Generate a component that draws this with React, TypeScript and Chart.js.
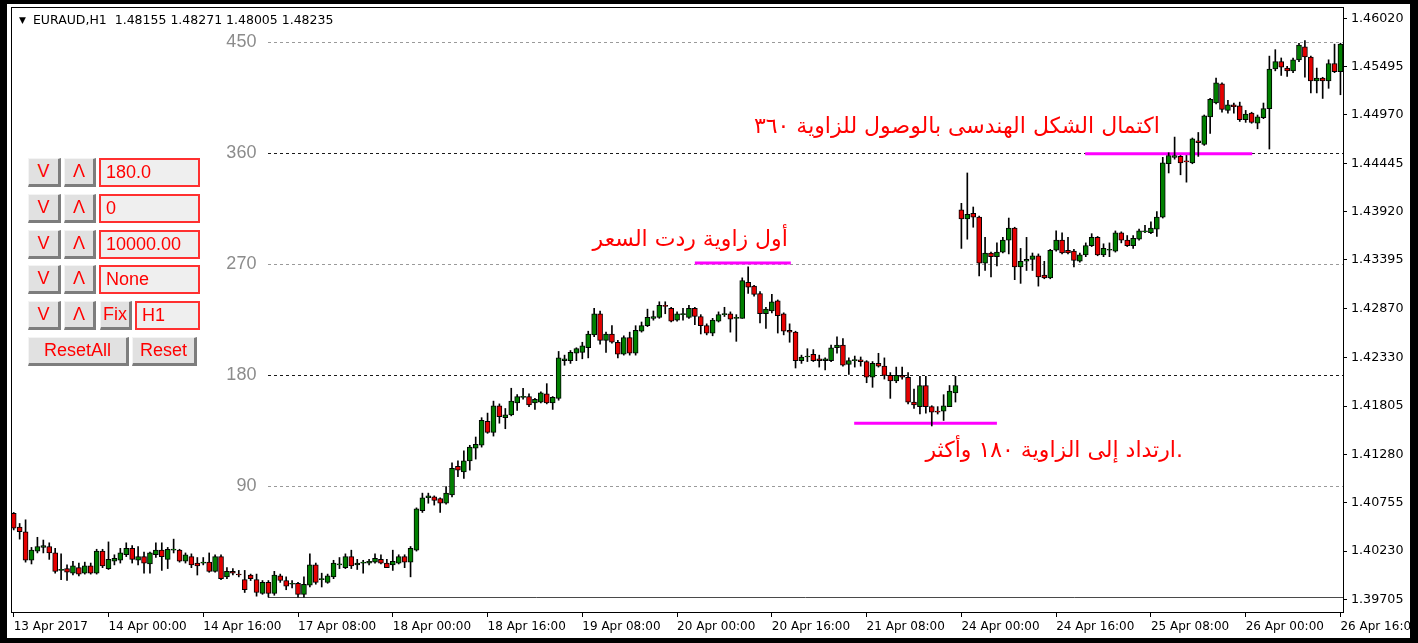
import React, { useEffect, useRef } from "react";
import { Chart, registerables } from "chart.js";

Chart.register(...registerables);

// ---------- DATA (EURAUD H1, one entry per bar, bar 0 = 13 Apr 2017 08:00) ----------
const opens = [
  // 0-49
  1.4064, 1.4049, 1.4044, 1.4013, 1.4023, 1.4027, 1.4028, 1.4021, 1.4002, 1.4004,
  1.3999, 1.4005, 1.3999, 1.4007, 1.3999, 1.4023, 1.4004, 1.4012, 1.4013, 1.4019,
  1.4026, 1.4013, 1.4017, 1.4009, 1.4019, 1.4024, 1.4014, 1.4024, 1.4024, 1.4012,
  1.4017, 1.4010, 1.4010, 1.4011, 1.4001, 1.4017, 1.3995, 1.4001, 1.3998, 1.3992,
  1.3997, 1.3992, 1.3977, 1.3989, 1.3977, 1.3996, 1.3991, 1.3987, 1.3988, 1.3976,
  // 50-92
  1.3986, 1.4008, 1.3992, 1.3989, 1.3995, 1.4008, 1.4005, 1.4017, 1.4008, 1.4010,
  1.4010, 1.4011, 1.4014, 1.4010, 1.4008, 1.4010, 1.4017, 1.4011, 1.4024, 1.4067,
  1.4081, 1.4082, 1.4080, 1.4075, 1.4084, 1.4115, 1.4109, 1.4121, 1.4135, 1.4138,
  1.4164, 1.4152, 1.4181, 1.4168, 1.4171, 1.4184, 1.4190, 1.4191, 1.4184, 1.4185,
  1.4194, 1.4184, 1.4189,
  // 93-126
  1.4230, 1.4230, 1.4238, 1.4239, 1.4244, 1.4258, 1.4281, 1.4252, 1.4259, 1.4250,
  1.4237, 1.4255, 1.4238, 1.4262, 1.4268, 1.4276, 1.4277, 1.4290, 1.4287, 1.4274,
  1.4280, 1.4277, 1.4287, 1.4278, 1.4268, 1.4260, 1.4273, 1.4280, 1.4281, 1.4276,
  1.4276, 1.4315, 1.4311, 1.4303,
  // 127-159
  1.4281, 1.4284, 1.4295, 1.4281, 1.4263, 1.4261, 1.4230, 1.4234, 1.4237, 1.4232,
  1.4230, 1.4230, 1.4244, 1.4247, 1.4226, 1.4230, 1.4231, 1.4229, 1.4212, 1.4227,
  1.4224, 1.4214, 1.4208, 1.4214, 1.4212, 1.4185, 1.4180, 1.4203, 1.4180, 1.4175,
  1.4175, 1.4180, 1.4195,
  // 160-194
  1.4394, 1.4384, 1.4390, 1.4386, 1.4336, 1.4347, 1.4343, 1.4348, 1.4361, 1.4374,
  1.4332, 1.4338, 1.4340, 1.4344, 1.4323, 1.4320, 1.4350, 1.4361, 1.4350, 1.4349,
  1.4338, 1.4345, 1.4355, 1.4364, 1.4345, 1.4350, 1.4349, 1.4369, 1.4361, 1.4355,
  1.4362, 1.4370, 1.4369, 1.4373, 1.4386,
  // 195-224
  1.4444, 1.4451, 1.4452, 1.4447, 1.4445, 1.4469, 1.4465, 1.4495, 1.4510, 1.4531,
  1.4502, 1.4508, 1.4507, 1.4492, 1.4499, 1.4488, 1.4494, 1.4504, 1.4547, 1.4555,
  1.4548, 1.4545, 1.4557, 1.4571, 1.4560, 1.4534, 1.4537, 1.4534, 1.4553, 1.4544,
];

const highs = [
  1.4065, 1.4053, 1.4057, 1.4027, 1.4038, 1.4035, 1.4032, 1.4026, 1.4020, 1.4008,
  1.4012, 1.4010, 1.4011, 1.4010, 1.4025, 1.4025, 1.4033, 1.4019, 1.4026, 1.4032,
  1.4029, 1.4028, 1.4022, 1.4022, 1.4032, 1.4032, 1.4027, 1.4036, 1.4025, 1.4021,
  1.4020, 1.4016, 1.4016, 1.4021, 1.4019, 1.4019, 1.4005, 1.4004, 1.4002, 1.4002,
  1.3998, 1.3998, 1.3991, 1.3991, 1.4001, 1.3998, 1.3995, 1.3991, 1.3989, 1.3995,
  1.4020, 1.4010, 1.3999, 1.3998, 1.4013, 1.4016, 1.4020, 1.4024, 1.4014, 1.4013,
  1.4014, 1.4020, 1.4019, 1.4014, 1.4024, 1.4019, 1.4019, 1.4028, 1.4070, 1.4086,
  1.4086, 1.4083, 1.4081, 1.4093, 1.4119, 1.4121, 1.4132, 1.4138, 1.4147, 1.4168,
  1.4173, 1.4186, 1.4183, 1.4178, 1.4200, 1.4193, 1.4200, 1.4194, 1.4189, 1.4196,
  1.4205, 1.4191, 1.4240,
  1.4236, 1.4241, 1.4244, 1.4250, 1.4262, 1.4287, 1.4284, 1.4261, 1.4268, 1.4252,
  1.4257, 1.4261, 1.4268, 1.4272, 1.4286, 1.4284, 1.4294, 1.4294, 1.4288, 1.4283,
  1.4287, 1.4290, 1.4288, 1.4280, 1.4270, 1.4276, 1.4283, 1.4288, 1.4283, 1.4280,
  1.4320, 1.4332, 1.4312, 1.4305,
  1.4288, 1.4302, 1.4296, 1.4282, 1.4270, 1.4262, 1.4236, 1.4243, 1.4242, 1.4236,
  1.4233, 1.4247, 1.4256, 1.4254, 1.4233, 1.4235, 1.4234, 1.4230, 1.4229, 1.4238,
  1.4233, 1.4217, 1.4223, 1.4223, 1.4217, 1.4199, 1.4213, 1.4213, 1.4181, 1.4180,
  1.4193, 1.4203, 1.4213,
  1.4401, 1.4434, 1.4397, 1.4387, 1.4364, 1.4348, 1.4358, 1.4364, 1.4385, 1.4375,
  1.4352, 1.4364, 1.4347, 1.4346, 1.4338, 1.4351, 1.4371, 1.4369, 1.4364, 1.4351,
  1.4347, 1.4358, 1.4368, 1.4365, 1.4357, 1.4358, 1.4371, 1.4370, 1.4366, 1.4366,
  1.4373, 1.4377, 1.4381, 1.4392, 1.4451,
  1.4456, 1.4473, 1.4453, 1.4453, 1.4472, 1.4478, 1.4497, 1.4515, 1.4537, 1.4532,
  1.4513, 1.4510, 1.4511, 1.4502, 1.4500, 1.4497, 1.4510, 1.4561, 1.4568, 1.4559,
  1.4550, 1.4559, 1.4575, 1.4578, 1.4561, 1.4548, 1.4538, 1.4557, 1.4574, 1.4575,
];

const lows = [
  1.4046, 1.4036, 1.4011, 1.4009, 1.4021, 1.4021, 1.4014, 1.3999, 1.3992, 1.3991,
  1.3997, 1.3996, 1.3998, 1.3998, 1.3998, 1.4005, 1.4003, 1.4008, 1.4010, 1.4017,
  1.4010, 1.4008, 1.3999, 1.3999, 1.4016, 1.4002, 1.4004, 1.4021, 1.4011, 1.4010,
  1.4005, 1.3997, 1.4008, 1.4000, 1.4000, 1.3992, 1.3993, 1.3997, 1.3995, 1.3978,
  1.3991, 1.3974, 1.3976, 1.3973, 1.3975, 1.3989, 1.3981, 1.3983, 1.3973, 1.3973,
  1.3984, 1.3987, 1.3984, 1.3988, 1.3993, 1.4004, 1.4004, 1.4004, 1.4003, 1.3999,
  1.4008, 1.4010, 1.4009, 1.4005, 1.4002, 1.4009, 1.4005, 1.3995, 1.4023, 1.4065,
  1.4075, 1.4073, 1.4065, 1.4074, 1.4082, 1.4104, 1.4102, 1.4111, 1.4123, 1.4136,
  1.4151, 1.4148, 1.4162, 1.4156, 1.4170, 1.4176, 1.4188, 1.4180, 1.4177, 1.4184,
  1.4183, 1.4177, 1.4187,
  1.4225, 1.4227, 1.4230, 1.4232, 1.4233, 1.4256, 1.4248, 1.4239, 1.4249, 1.4233,
  1.4236, 1.4236, 1.4236, 1.4261, 1.4267, 1.4274, 1.4276, 1.4281, 1.4272, 1.4273,
  1.4274, 1.4276, 1.4269, 1.4259, 1.4258, 1.4257, 1.4272, 1.4278, 1.4261, 1.4251,
  1.4276, 1.4303, 1.4300, 1.4271,
  1.4265, 1.4282, 1.4260, 1.4258, 1.4250, 1.4222, 1.4227, 1.4229, 1.4229, 1.4223,
  1.4220, 1.4229, 1.4238, 1.4224, 1.4215, 1.4223, 1.4224, 1.4206, 1.4201, 1.4223,
  1.4210, 1.4189, 1.4206, 1.4210, 1.4183, 1.4178, 1.4172, 1.4173, 1.4159, 1.4172,
  1.4165, 1.4180, 1.4185,
  1.4352, 1.4362, 1.4375, 1.4322, 1.4328, 1.4321, 1.4333, 1.4347, 1.4346, 1.4318,
  1.4314, 1.4328, 1.4328, 1.4311, 1.4319, 1.4319, 1.4349, 1.4346, 1.4346, 1.4332,
  1.4337, 1.4343, 1.4354, 1.4344, 1.4343, 1.4343, 1.4348, 1.4358, 1.4354, 1.4352,
  1.4361, 1.4369, 1.4368, 1.4365, 1.4385,
  1.4434, 1.4449, 1.4432, 1.4424, 1.4444, 1.4452, 1.4464, 1.4477, 1.4509, 1.4500,
  1.4499, 1.4499, 1.4490, 1.4489, 1.4488, 1.4482, 1.4493, 1.4460, 1.4545, 1.4540,
  1.4539, 1.4543, 1.4555, 1.4538, 1.4521, 1.4521, 1.4515, 1.4526, 1.4543, 1.4519,
];

const closes = [
  1.4048, 1.4044, 1.4013, 1.4024, 1.4028, 1.4029, 1.4021, 1.4001, 1.4003, 1.4000,
  1.4007, 1.3998, 1.4007, 1.3999, 1.4023, 1.4007, 1.4014, 1.4015, 1.4021, 1.4026,
  1.4014, 1.4017, 1.4010, 1.4021, 1.4024, 1.4017, 1.4025, 1.4024, 1.4012, 1.4019,
  1.4008, 1.4007, 1.4011, 1.4001, 1.4017, 1.3993, 1.4001, 1.3999, 1.3997, 1.3981,
  1.3993, 1.3978, 1.3989, 1.3977, 1.3997, 1.3991, 1.3985, 1.3987, 1.3976, 1.3987,
  1.4008, 1.3989, 1.3993, 1.3996, 1.4010, 1.4009, 1.4017, 1.4007, 1.4010, 1.4010,
  1.4012, 1.4015, 1.4010, 1.4005, 1.4012, 1.4017, 1.4011, 1.4026, 1.4069, 1.4081,
  1.4083, 1.4078, 1.4075, 1.4086, 1.4113, 1.4111, 1.4121, 1.4136, 1.4139, 1.4165,
  1.4152, 1.4181, 1.4169, 1.4171, 1.4186, 1.4191, 1.4190, 1.4182, 1.4188, 1.4195,
  1.4184, 1.4190, 1.4233,
  1.4232, 1.4239, 1.4243, 1.4246, 1.4259, 1.4281, 1.4252, 1.4259, 1.4250, 1.4237,
  1.4255, 1.4238, 1.4263, 1.4268, 1.4277, 1.4278, 1.4290, 1.4289, 1.4273, 1.4281,
  1.4281, 1.4287, 1.4278, 1.4268, 1.4260, 1.4274, 1.4280, 1.4280, 1.4275, 1.4277,
  1.4317, 1.4310, 1.4302, 1.4281,
  1.4286, 1.4294, 1.4279, 1.4262, 1.4261, 1.4230, 1.4234, 1.4235, 1.4230, 1.4230,
  1.4232, 1.4244, 1.4247, 1.4225, 1.4230, 1.4231, 1.4229, 1.4212, 1.4227, 1.4224,
  1.4214, 1.4208, 1.4214, 1.4212, 1.4185, 1.4182, 1.4203, 1.4180, 1.4174, 1.4174,
  1.4181, 1.4197, 1.4203,
  1.4384, 1.4389, 1.4386, 1.4336, 1.4347, 1.4343, 1.4348, 1.4361, 1.4374, 1.4332,
  1.4338, 1.4340, 1.4344, 1.4321, 1.4320, 1.4350, 1.4361, 1.4347, 1.4347, 1.4339,
  1.4345, 1.4355, 1.4364, 1.4345, 1.4352, 1.4351, 1.4369, 1.4361, 1.4355, 1.4363,
  1.4371, 1.4371, 1.4374, 1.4386, 1.4445,
  1.4453, 1.4453, 1.4445, 1.4446, 1.4471, 1.4467, 1.4496, 1.4514, 1.4532, 1.4503,
  1.4508, 1.4506, 1.4492, 1.4498, 1.4489, 1.4495, 1.4504, 1.4547, 1.4555, 1.4549,
  1.4545, 1.4557, 1.4573, 1.4560, 1.4534, 1.4537, 1.4534, 1.4553, 1.4544, 1.4574,
];

const timeLabels = [
  "13 Apr 2017", "14 Apr 00:00", "14 Apr 16:00", "17 Apr 08:00", "18 Apr 00:00",
  "18 Apr 16:00", "19 Apr 08:00", "20 Apr 00:00", "20 Apr 16:00", "21 Apr 08:00",
  "24 Apr 00:00", "24 Apr 16:00", "25 Apr 08:00", "26 Apr 00:00", "26 Apr 16:00",
];
const barsPerTimeLabel = 16;

const priceTicks = [
  1.4602, 1.45495, 1.4497, 1.44445, 1.4392, 1.43395, 1.4287,
  1.4233, 1.41805, 1.4128, 1.40755, 1.4023, 1.39705,
];

const symbolHeader = "EURAUD,H1  1.48155 1.48271 1.48005 1.48235";

// angle levels (degrees), measured from the swing low at bar 43
const angleLevels = [0, 90, 180, 270, 360, 450];
const angleBasePrice = 1.3973;
const pricePer90Degrees = 0.01207;
const angleAnchorBar = 43;

const highlightSegments = [
  { fromBar: 115, toBar: 131.2, price: 1.4336 },
  { fromBar: 141.9, toBar: 166.0, price: 1.4162 },
  { fromBar: 180.9, toBar: 209.1, price: 1.4455 },
];

const notes = [
  { text: "أول زاوية ردت السعر", bar: 130.7, price: 1.4361 },
  { text: "اكتمال الشكل الهندسى بالوصول للزاوية ٣٦٠", bar: 193.5, price: 1.4484 },
  { text: ".ارتداد إلى الزاوية ١٨٠ وأكثر", bar: 197.4, price: 1.4131 },
];

const panelRows = [
  { buttons: ["V", "Λ"], field: "180.0" },
  { buttons: ["V", "Λ"], field: "0" },
  { buttons: ["V", "Λ"], field: "10000.00" },
  { buttons: ["V", "Λ"], field: "None" },
  { buttons: ["V", "Λ", "Fix"], field: "H1" },
];
const panelResetButtons = ["ResetAll", "Reset"];

// ---------- STYLE ----------
const W = 1418;
const H = 643;
const AXIS_FONT = '"DejaVu Sans", sans-serif';
const BULL = "#008000";
const BEAR = "#e60000";

export default function App() {
  const ref = useRef<HTMLCanvasElement>(null);

  useEffect(() => {
    document.body.style.margin = "0";
    const canvas = ref.current!;
    const idx = opens.map((_, i) => i);

    const overlay = {
      id: "mtOverlay",
      beforeDatasetsDraw(chart: any) {
        const { ctx, chartArea: a, scales } = chart;
        const x = scales.x;
        const y = scales.y;
        ctx.save();
        ctx.beginPath();
        ctx.rect(a.left, a.top, a.right - a.left, a.bottom - a.top);
        ctx.clip();
        const x0 = x.getPixelForValue(angleAnchorBar);
        angleLevels.forEach((deg) => {
          const price = angleBasePrice + (pricePer90Degrees * deg) / 90;
          const py = Math.round(y.getPixelForValue(price)) + 0.5;
          ctx.beginPath();
          ctx.lineWidth = 1;
          if (deg === 0) {
            ctx.setLineDash([]);
            ctx.strokeStyle = "#4a4a4a";
          } else {
            ctx.setLineDash([3, 3]);
            ctx.strokeStyle = deg % 180 === 0 ? "#1a1a1a" : "#9a9a9a";
          }
          ctx.moveTo(Math.round(x0), py);
          ctx.lineTo(a.right, py);
          ctx.stroke();
          if (deg > 0) {
            ctx.setLineDash([]);
            ctx.fillStyle = "#8c8c8c";
            ctx.font = '18px "Liberation Sans", Arial, sans-serif';
            ctx.textAlign = "right";
            ctx.textBaseline = "middle";
            ctx.fillText(String(deg), x0 - 12, py);
          }
        });
        ctx.setLineDash([]);
        highlightSegments.forEach((s) => {
          const py = y.getPixelForValue(s.price);
          ctx.beginPath();
          ctx.strokeStyle = "#ff00ff";
          ctx.lineWidth = 3;
          ctx.moveTo(x.getPixelForValue(s.fromBar), py);
          ctx.lineTo(x.getPixelForValue(s.toBar), py);
          ctx.stroke();
        });
        ctx.restore();
      },
      afterDatasetsDraw(chart: any) {
        const { ctx, scales } = chart;
        ctx.save();
        ctx.fillStyle = "#ff0000";
        ctx.font = '22px "DejaVu Sans", sans-serif';
        ctx.textAlign = "right";
        ctx.textBaseline = "middle";
        (ctx as any).direction = "rtl";
        notes.forEach((n) => {
          ctx.fillText(n.text, scales.x.getPixelForValue(n.bar), scales.y.getPixelForValue(n.price));
        });
        ctx.restore();
      },
      afterDraw(chart: any) {
        const { ctx, chartArea: a } = chart;
        ctx.save();
        ctx.strokeStyle = "#000";
        ctx.lineWidth = 1;
        ctx.strokeRect(Math.round(a.left) - 0.5, Math.round(a.top) - 0.5, Math.round(a.right - a.left) + 1, Math.round(a.bottom - a.top) + 1);
        ctx.restore();
      },
    };

    const chart = new Chart(canvas, {
      type: "bar",
      data: {
        datasets: [
          {
            label: "wick",
            data: idx.map((i) => ({ x: i, y: [lows[i], highs[i]] })) as any,
            backgroundColor: "#000",
            borderWidth: 0,
            barThickness: 1,
            grouped: false,
            order: 2,
          } as any,
          {
            label: "body",
            data: idx.map((i) => ({ x: i, y: [opens[i], closes[i]] })) as any,
            backgroundColor: idx.map((i) => (closes[i] >= opens[i] ? BULL : BEAR)),
            borderColor: "#000",
            borderWidth: 1,
            borderSkipped: false,
            barThickness: 5,
            minBarLength: 1,
            grouped: false,
            order: 1,
          } as any,
        ],
      },
      options: {
        animation: false,
        responsive: false,
        maintainAspectRatio: false,
        events: [],
        layout: { padding: { left: 12, top: 8, right: 0, bottom: 0 } },
        plugins: { legend: { display: false }, tooltip: { enabled: false } },
        scales: {
          x: {
            type: "linear",
            offset: false,
            min: -0.29,
            max: 224.43,
            afterBuildTicks: (s: any) => {
              s.ticks = timeLabels.map((_, k) => ({ value: k * barsPerTimeLabel }));
            },
            afterFit: (s: any) => {
              s.height = H - 612;
              s.paddingLeft = 0;
              s.paddingRight = 0;
            },
            grid: { offset: false, drawOnChartArea: false, drawTicks: true, tickLength: 5, color: "#000" },
            border: { display: false },
            ticks: {
              autoSkip: false,
              maxRotation: 0,
              minRotation: 0,
              align: "start",
              padding: 3,
              color: "#000",
              font: { family: AXIS_FONT, size: 12 },
              callback: (_v: any, i: number) => timeLabels[i] ?? "",
            },
          },
          y: {
            position: "right",
            min: 1.39568,
            max: 1.46133,
            afterBuildTicks: (s: any) => {
              s.ticks = priceTicks.map((v) => ({ value: v }));
            },
            afterFit: (s: any) => {
              s.width = W - 1343;
              s.paddingTop = 0;
              s.paddingBottom = 0;
            },
            grid: { drawOnChartArea: false, drawTicks: true, tickLength: 4, color: "#000" },
            border: { display: false },
            ticks: {
              padding: 4,
              color: "#000",
              font: { family: AXIS_FONT, size: 12.7 },
              callback: (v: any) => Number(v).toFixed(5),
            },
          },
        },
      } as any,
      plugins: [overlay],
    });
    return () => chart.destroy();
  }, []);

  const btnStyle = (left: number, top: number, width: number): React.CSSProperties => ({
    position: "absolute",
    left,
    top,
    width,
    height: 29,
    boxSizing: "border-box",
    background: "#e1e1e1",
    borderStyle: "solid",
    borderWidth: "1px 3px 3px 1px",
    borderColor: "#f4f4f4 #7d7d7d #7d7d7d #f4f4f4",
    color: "#ff0000",
    font: '18px "Liberation Sans", Arial, sans-serif',
    display: "flex",
    alignItems: "center",
    justifyContent: "center",
  });
  const fieldStyle = (left: number, top: number, width: number): React.CSSProperties => ({
    position: "absolute",
    left,
    top,
    width,
    height: 29,
    boxSizing: "border-box",
    background: "#efefef",
    border: "2px solid #ff3030",
    color: "#ff0000",
    font: '18px "Liberation Sans", Arial, sans-serif',
    display: "flex",
    alignItems: "center",
    paddingLeft: 5,
  });

  return (
    <div style={{ position: "relative", width: W, height: H, background: "#fff", overflow: "hidden" }}>
      <canvas ref={ref} width={W} height={H} style={{ position: "absolute", left: 0, top: 0, width: W, height: H }} />
      <div
        style={{
          position: "absolute",
          left: 19,
          top: 12,
          font: '12.5px "DejaVu Sans", sans-serif',
          color: "#000",
          whiteSpace: "pre",
          display: "flex",
          alignItems: "center",
        }}
      >
        <span style={{ fontSize: 9, marginRight: 7 }}>▼</span>
        <span>{symbolHeader}</span>
      </div>
      {panelRows.map((row, r) => {
        const top = 158 + r * 35.8;
        const hasFix = row.buttons.length === 3;
        return (
          <React.Fragment key={r}>
            <div style={btnStyle(28, top, 33)}>{row.buttons[0]}</div>
            <div style={btnStyle(64, top, 32)}>{row.buttons[1]}</div>
            {hasFix && <div style={btnStyle(100, top, 32)}>{row.buttons[2]}</div>}
            <div style={fieldStyle(hasFix ? 135 : 99, top, hasFix ? 65 : 101)}>{row.field}</div>
          </React.Fragment>
        );
      })}
      <div style={btnStyle(28, 337, 101)}>{panelResetButtons[0]}</div>
      <div style={btnStyle(132, 337, 65)}>{panelResetButtons[1]}</div>
      <div
        style={{
          position: "absolute",
          left: 0,
          top: 0,
          width: W,
          height: H,
          boxSizing: "border-box",
          borderStyle: "solid",
          borderColor: "#000",
          borderWidth: "4px 8px 5px 7px",
          pointerEvents: "none",
        }}
      />
    </div>
  );
}
